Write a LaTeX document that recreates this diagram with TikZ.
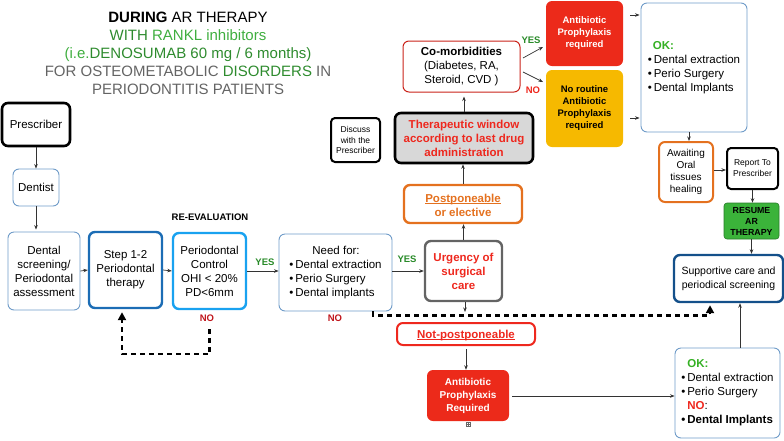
\documentclass[tikz,border=0pt]{standalone}
\usepackage{fontspec}
\setmainfont{Liberation Sans}
\usetikzlibrary{arrows.meta,calc}
\definecolor{lb}{RGB}{110,155,200}
\definecolor{stepblue}{RGB}{28,109,181}
\definecolor{ctrlblue}{RGB}{25,162,240}
\definecolor{supblue}{RGB}{20,80,138}
\definecolor{redfill}{RGB}{236,42,26}
\definecolor{redtxt}{RGB}{238,40,30}
\definecolor{nored}{RGB}{192,21,27}
\definecolor{orng}{RGB}{228,113,31}
\definecolor{yel}{RGB}{246,185,0}
\definecolor{grfill}{RGB}{59,179,58}
\definecolor{okg}{RGB}{52,176,35}
\definecolor{yesg}{RGB}{40,138,40}
\definecolor{tgd}{RGB}{46,139,46}
\definecolor{tgl}{RGB}{63,174,63}
\definecolor{tgray}{RGB}{100,100,100}
\definecolor{ugray}{RGB}{100,100,100}
\definecolor{thfill}{RGB}{216,216,216}
\tikzset{
  box/.style={draw, rounded corners=6pt, align=center, inner sep=1pt, text=black,
    font=\fontsize{11.5}{14}\selectfont},
  sz/.style 2 args={minimum width=#1, minimum height=#2},
  thinb/.style={box, draw=lb, line width=0.9pt},
  arr/.style={-{Stealth[length=4.5pt,width=3.5pt]}, line width=0.7pt, draw=black!80},
  dashy/.style={line width=2.2pt, dash pattern=on 5pt off 4pt, -{Triangle[length=8pt,width=8pt]}},
  lbl/.style={font=\fontsize{9.5}{11}\selectfont\bfseries, inner sep=0pt},
  btxt/.style={font=\fontsize{11.5}{14}\selectfont\bfseries, inner sep=0pt},
}
\begin{document}
\begin{tikzpicture}[x=1pt,y=-1pt]
\useasboundingbox (0,0) rectangle (784,440);

% title
\node[align=center, font=\fontsize{15}{18}\selectfont, inner sep=0pt] (title) at (188,53)
  {{\bfseries DURING} AR THERAPY\\
   \textcolor{tgd}{WITH} \textcolor{tgl}{RANKL inhibitors}\\
   \textcolor{tgl}{(i.e.}\textcolor{tgd}{DENOSUMAB 60 mg / 6 months)}\\
   \textcolor{tgray}{FOR OSTEOMETABOLIC} \textcolor{tgd}{DISORDERS} \textcolor{tgray}{IN}\\
   \textcolor{tgray}{PERIODONTITIS PATIENTS}};

% left column
\node[box, line width=2.6pt, sz={68pt}{43pt}] (prescriber) at (36,124.5) {Prescriber};
\node[thinb, sz={46pt}{37pt}] (dentist) at (36,187.5) {Dentist};
\node[thinb, sz={72pt}{78pt}] (screen) at (44,271) {Dental\\screening/\\Periodontal\\assessment};
\node[box, draw=stepblue, line width=2.4pt, sz={73pt}{76pt}] (step) at (125.5,270) {Step 1-2\\Periodontal\\therapy};
\node[box, draw=ctrlblue, line width=2.4pt, sz={73pt}{76pt}] (control) at (209.5,271) {Periodontal\\Control\\OHI < 20\%\\PD<6mm};
\node[thinb, sz={113pt}{77pt}, align=left] (need) at (335.5,272.5)
  {\hspace*{23pt}Need for:\\\textbullet\,Dental extraction\\\textbullet\,Perio Surgery\\\textbullet\,Dental implants};

\node[lbl] (reeval) at (210,217) {RE-EVALUATION};
\node[lbl, text=yesg] (yes1) at (265,262) {YES};
\node[lbl, text=nored] (no1) at (207,318) {NO};
\node[lbl, text=nored] (no2) at (335,318) {NO};
\node[lbl, text=yesg] (yes2) at (407,259) {YES};

% middle column
\node[box, draw=ugray, line width=2.4pt, sz={77pt}{60pt}, text=redtxt, font=\fontsize{11.5}{14}\selectfont\bfseries] (urgency) at (463.5,271) {Urgency of\\surgical\\care};
\node[box, draw=orng, line width=2.4pt, sz={118pt}{38pt}] (postp) at (463,204) {};
\node[btxt, text=orng, anchor=base] (postpA) at (463,202) {Postponeable};
\node[btxt, text=orng, anchor=base] (postpB) at (463,216) {or elective};
\draw[orng, line width=0.7pt] ([yshift=-1.8pt]postpA.base west) -- ([yshift=-1.8pt]postpA.base east);
\node[box, draw=black, fill=thfill, line width=2.6pt, sz={138pt}{50pt}, text=redtxt, font=\fontsize{11.5}{14}\selectfont\bfseries] (therap) at (464,138) {Therapeutic window\\according to last drug\\administration};
\node[box, draw=black, line width=2pt, sz={49pt}{44pt}, font=\fontsize{8.5}{10.7}\selectfont, rounded corners=4pt] (discuss) at (355.5,140) {Discuss\\with the\\Prescriber};
\node[box, draw=redtxt!85!black, line width=1pt, sz={117pt}{51pt}] (comorb) at (461.5,66.5) {\textbf{Co-morbidities}\\(Diabetes, RA,\\Steroid, CVD )};
\node[box, draw=none, fill=redfill, text=white, sz={77pt}{65pt}, font=\fontsize{9.5}{12}\selectfont\bfseries] (abx1) at (584.5,33.5) {Antibiotic\\Prophylaxis\\required};
\node[box, draw=none, fill=yel, text=black, sz={77pt}{77pt}, font=\fontsize{9.5}{12}\selectfont\bfseries] (noroutine) at (584.5,108.5) {No routine\\Antibiotic\\Prophylaxis\\required};
\node[lbl, text=yesg] (yes3) at (531,40) {YES};
\node[lbl, text=redtxt] (no3) at (533,90) {NO};
\coordinate (cy1) at (523,58);
\coordinate (cy2) at (543,47);
\coordinate (cn1) at (523,72);
\coordinate (cn2) at (543,82);

\node[box, draw=redtxt, line width=2pt, sz={138pt}{22pt}] (notpost) at (466,334) {};
\node[btxt, text=redtxt, anchor=base] (notpostT) at (466,338) {Not-postponeable};
\draw[redtxt, line width=0.7pt] ([yshift=-1.8pt]notpostT.base west) -- ([yshift=-1.8pt]notpostT.base east);
\node[box, draw=none, fill=redfill, text=white, sz={82pt}{51pt}, font=\fontsize{10}{13}\selectfont\bfseries] (abx2) at (468,395.5) {Antibiotic\\Prophylaxis\\Required};
\node[draw=black!60, line width=0.5pt, minimum size=4pt, inner sep=0pt] (icon) at (468,424) {};
\draw[black!60, line width=0.4pt] (icon.north) -- (icon.south) (icon.west) -- (icon.east);

% right column
\node[thinb, sz={106pt}{129pt}, align=left] (ok1) at (694,67.5)
  {\hspace*{5pt}\textcolor{okg}{\bfseries OK:}\\\textbullet\,Dental extraction\\\textbullet\,Perio Surgery\\\textbullet\,Dental Implants};
\node[box, draw=orng, line width=2pt, sz={54pt}{60pt}, font=\fontsize{10}{12.2}\selectfont] (await) at (686,172) {Awaiting\\Oral\\tissues\\healing};
\node[box, draw=black, line width=2pt, sz={51pt}{41pt}, font=\fontsize{8.5}{11}\selectfont, rounded corners=4pt] (report) at (752.5,168.5) {Report To\\Prescriber};
\node[box, draw=grfill!70!black, line width=0.6pt, fill=grfill, sz={55pt}{36pt}, font=\fontsize{8.8}{11}\selectfont\bfseries, rounded corners=3pt] (resume) at (751.5,221) {RESUME\\AR\\THERAPY};
\node[box, draw=supblue, line width=2.4pt, sz={109pt}{47pt}, font=\fontsize{10.5}{14}\selectfont] (support) at (728.5,278.5) {Supportive care and\\periodical screening};
\node[thinb, sz={105pt}{90pt}, align=left] (ok2) at (727.5,393)
  {\hspace*{6pt}\textcolor{okg}{\bfseries OK:}\\\textbullet\,Dental extraction\\\textbullet\,Perio Surgery\\\hspace*{6pt}\textcolor{redtxt}{\bfseries NO}:\\\textbf{\textbullet\,Dental Implants}};

% connectors
\draw[arr] (prescriber.south) -- (dentist.north);
\draw[arr] (dentist.south) -- ([yshift=2pt]dentist.south |- screen.north);
\draw[arr] (screen.east) -- (step.west);
\draw[arr] (step.east) -- (control.west);
\draw[arr] (control.east) -- (control.east -| need.west);
\draw[arr] (need.east |- urgency.west) -- (urgency.west);
\draw[arr] (urgency.north) -- (urgency.north |- postp.south);
\draw[arr] (postp.north) -- (postp.north |- therap.south);
\draw[arr, shorten >=4pt] (therap.north) -- (therap.north |- comorb.south);
\draw[arr] (cy1) -- (cy2);
\draw[arr] (cn1) -- (cn2);
\draw[arr, shorten <=7pt, shorten >=1pt] (abx1.east |- 0,15) -- (ok1.west |- 0,15);
\draw[arr, shorten <=7pt, shorten >=1pt] (noroutine.east |- 0,118) -- (ok1.west |- 0,118);
\draw[arr] ([xshift=-5pt]ok1.south) -- ([xshift=3pt]await.north);
\draw[arr] (await.east |- 0,170) -- (report.west |- 0,170);
\draw[arr] (report.south) -- (report.south |- resume.north);
\draw[arr] (resume.south) -- (resume.south |- support.north);
\draw[arr] (ok2.north -| 740,0) -- (support.south -| 740,0);
\coordinate (ug) at (465,312);
\draw[arr] (urgency.south -| ug) -- (ug);
\draw[arr, shorten <=3pt] (notpost.south) -- (notpost.south |- abx2.north);
\draw[arr, shorten <=3pt] (abx2.east |- 0,396) -- (ok2.west |- 0,396);

% dashed
\draw[dashy] ([xshift=37.5pt]need.south) -- ++(0,4) -| ([yshift=-2pt]support.south -| 710,0);
\draw[dashy, shorten >=3pt] ([yshift=-19pt]control.south) -- ++(0,25) -| ([xshift=-3.5pt]step.south);
\end{tikzpicture}
\end{document}
